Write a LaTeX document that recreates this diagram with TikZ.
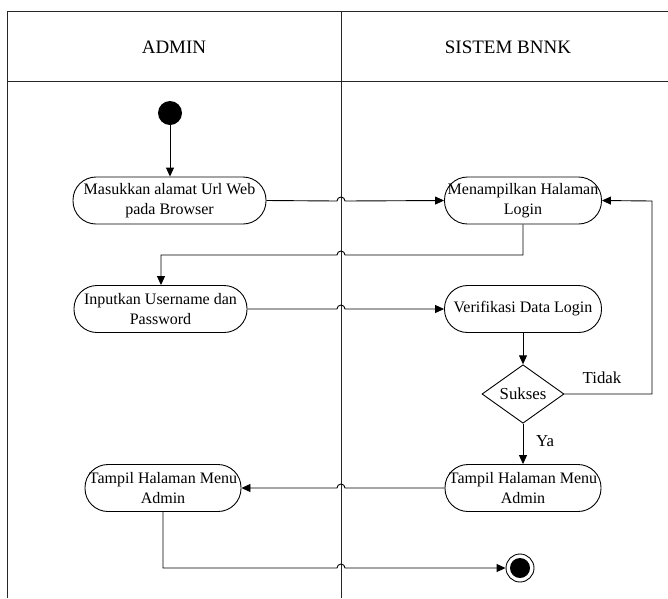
\documentclass[tikz,border=0pt]{standalone}
\usepackage{fontspec}
\setmainfont{Liberation Serif}
\usetikzlibrary{arrows.meta,shapes.geometric}
\tikzset{
  frameline/.style={line width=1pt,black!85},
  act/.style={draw,line width=0.9pt,rounded corners=23pt,minimum height=47pt,inner sep=0pt,align=center,font=\fontsize{16}{19.5}\selectfont},
  flow/.style={line width=0.9pt,-{Triangle[length=9pt,width=8pt]}},
  lbl/.style={font=\fontsize{16.8}{19}\selectfont,inner sep=0pt},
  hdr/.style={font=\fontsize{19}{22}\selectfont,inner sep=0pt},
}
\begin{document}
\begin{tikzpicture}[x=1pt,y=1pt]
\useasboundingbox (0,0) rectangle (668,-598);
% swimlane frame
\coordinate (tl) at (7,-11);
\coordinate (tr) at (668,-11);
\coordinate (bl) at (7,-598);
\coordinate (hl) at (7,-81);
\coordinate (hr) at (668,-81);
\coordinate (mt) at (341,-11);
\coordinate (mb) at (341,-598);
\draw[frameline] (bl) -- (tl) -- (tr);
\draw[frameline] (hl) -- (hr);
\draw[frameline] (mt) -- (mb);
\node[hdr] (h1) at (174,-47) {ADMIN};
\node[hdr] (h2) at (508,-47) {SISTEM BNNK};
% nodes
\node[circle,fill=black,minimum size=24pt,inner sep=0pt] (start) at (170,-113) {};
\node[act,minimum width=193pt] (n1) at (169.5,-200.5) {Masukkan alamat Url Web\\pada Browser};
\node[act,minimum width=157pt] (n2) at (523,-200.5) {Menampilkan Halaman\\Login};
\node[act,minimum width=173pt] (n3) at (160.5,-309) {Inputkan Username dan\\Password};
\node[act,minimum width=157pt] (n4) at (523,-309) {Verifikasi Data Login};
\node[draw,diamond,line width=0.9pt,minimum width=82pt,minimum height=56pt,inner sep=0pt,font=\fontsize{16.8}{19}\selectfont] (dia) at (523,-394) {Sukses};
\node[act,minimum width=156pt] (n5) at (523,-488) {Tampil Halaman Menu\\Admin};
\node[act,minimum width=156pt] (n6) at (163,-488) {Tampil Halaman Menu\\Admin};
\node[circle,draw,line width=0.9pt,minimum size=28pt,inner sep=0pt] (end) at (520,-568) {};
\node[circle,fill=black,minimum size=20pt,inner sep=0pt] (endin) at (end.center) {};
\coordinate (ret) at (652,-394);
\coordinate (ret2) at (652,-201);
\coordinate (bend1) at (523,-255);
\coordinate (bend2) at (161,-255);
\coordinate (bend3) at (163,-568);
% connectors
\draw[flow] (start) -- (start |- n1.north);
\draw[flow] (n1.east) -- (337,-201) arc[start angle=180,end angle=0,radius=4pt] -- (n2.west);
\draw[flow] (n2.south) -- (bend1) -- (345,-255) arc[start angle=0,end angle=180,radius=4pt] -- (bend2) -- (bend2 |- n3.north);
\draw[flow] (n3.east) -- (337,-309) arc[start angle=180,end angle=0,radius=4pt] -- (n4.west);
\draw[flow] (n4.south) -- (dia.north);
\draw[flow] (dia.east) -- (ret) -- (ret2) -- (n2.east);
\draw[flow] (dia.south) -- (n5.north);
\draw[flow] (n5.west) -- (345,-488) arc[start angle=0,end angle=180,radius=4pt] -- (n6.east);
\draw[flow] (n6.south) -- (bend3) -- (337,-568) arc[start angle=180,end angle=0,radius=4pt] -- (end.west);
\node[lbl] (tidak) at (602,-378) {Tidak};
\node[lbl] (ya) at (545,-441) {Ya};
\end{tikzpicture}
\end{document}
